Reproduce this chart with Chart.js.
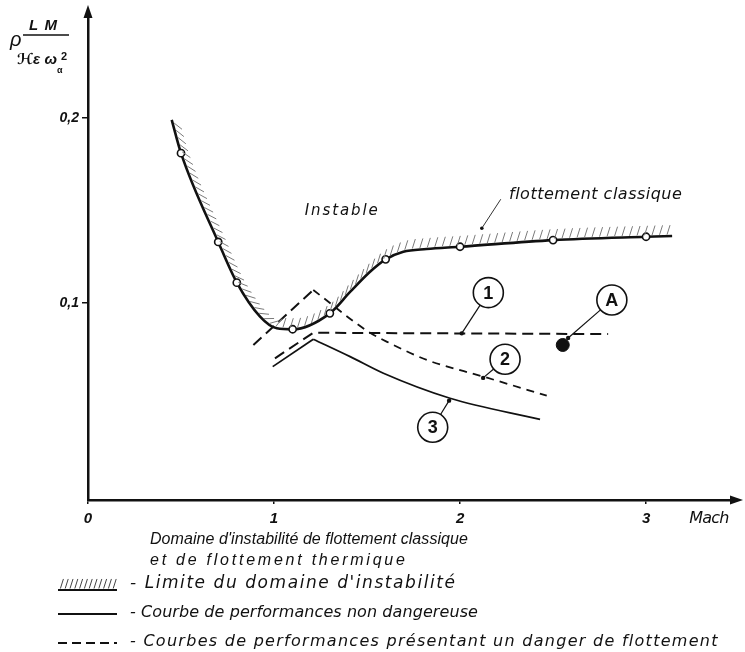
<!DOCTYPE html>
<html>
<head>
<meta charset="utf-8">
<script src="https://cdn.jsdelivr.net/npm/chart.js@4/dist/chart.umd.min.js"></script>
<style>
  html, body { margin: 0; padding: 0; background: #fff; }
  #wrap { width: 745px; height: 652px; position: relative; }
</style>
</head>
<body>
<div id="wrap"><canvas id="c" width="745" height="652"></canvas></div>
<script>
// Limite du domaine d'instabilité (flottement classique)
const limitMach     = [0.45, 0.50, 0.70, 0.80, 0.925, 1.015, 1.10, 1.30, 1.41, 1.516, 1.60, 1.695, 1.82, 2.00, 2.50, 3.00, 3.14];
const limitValue    = [0.199, 0.181, 0.133, 0.111, 0.0926, 0.0863, 0.0858, 0.0944, 0.1061, 0.1169, 0.1236, 0.1277, 0.1292, 0.1304, 0.134, 0.1358, 0.1362];
const limitMeasured = [false, true, true, true, false, false, true, true, false, false, true, false, false, true, true, true, false];

// Courbe 1 (dangereuse) : montée puis palier
const c1Mach  = [1.005, 1.211, 2.796];
const c1Value = [0.0701, 0.0839, 0.0832];

// Courbe 2 (dangereuse) : montée, pointe, décroissance
const c2RiseMach  = [0.889, 1.211];
const c2RiseValue = [0.0773, 0.107];
const c2FallMach  = [1.211, 1.507, 1.624, 1.821, 2.125, 2.466];
const c2FallValue = [0.107, 0.0845, 0.0782, 0.0692, 0.0602, 0.0499];

// Courbe 3 (non dangereuse)
const c3RiseMach  = [0.993, 1.211];
const c3RiseValue = [0.0656, 0.0804];
const c3FallMach  = [1.211, 1.409, 1.588, 1.946, 2.43];
const c3FallValue = [0.0804, 0.071, 0.062, 0.0485, 0.0371];

// Point de fonctionnement A
const pointAMach  = [2.552];
const pointAValue = [0.0773];

// Axes
const xTickValues = [0, 1, 2, 3];
const xTickLabels = ['0', '1', '2', '3'];
const yTickValues = [0.1, 0.2];
const yTickLabels = ['0,1', '0,2'];

const toXY = (xs, ys) => xs.map((v, i) => ({ x: v, y: ys[i] }));

const INK = '#111';
const NARROW = '"Liberation Sans", "DejaVu Sans", sans-serif';
const WIDE = '"DejaVu Sans", "Liberation Sans", sans-serif';

// text stretched to a given width through letter spacing
function fitText(ctx, text, x, y, width, size, family, weight) {
  ctx.font = `italic ${weight || 'normal'} ${size}px ${family || WIDE}`;
  ctx.letterSpacing = '0px';
  const w0 = ctx.measureText(text).width;
  const ls = (width - w0) / Math.max(1, text.length - 1);
  ctx.letterSpacing = ls.toFixed(2) + 'px';
  ctx.textAlign = 'left';
  ctx.textBaseline = 'middle';
  ctx.fillText(text, x, y);
  ctx.letterSpacing = '0px';
}

function bezierPath(pts) {
  const out = [];
  for (let i = 0; i < pts.length - 1; i++) {
    const a = pts[i], b = pts[i + 1];
    const c1x = a.cp2x ?? a.x, c1y = a.cp2y ?? a.y;
    const c2x = b.cp1x ?? b.x, c2y = b.cp1y ?? b.y;
    for (let k = 0; k < 60; k++) {
      const t = k / 60, u = 1 - t;
      out.push({
        x: u*u*u*a.x + 3*u*u*t*c1x + 3*u*t*t*c2x + t*t*t*b.x,
        y: u*u*u*a.y + 3*u*u*t*c1y + 3*u*t*t*c2y + t*t*t*b.y
      });
    }
  }
  const l = pts[pts.length - 1];
  out.push({ x: l.x, y: l.y });
  return out;
}

// short strokes on the unstable (upper) side of a path
function hatchAlong(ctx, path, step, len) {
  let total = 0, next = step * 0.5;
  for (let i = 1; i < path.length; i++) {
    const p = path[i - 1], q = path[i];
    const dx = q.x - p.x, dy = q.y - p.y, d = Math.hypot(dx, dy);
    if (!d) continue;
    const tx = dx / d, ty = dy / d, nx = ty, ny = -tx;
    let ux, uy;
    if (ty > 0.2) {            // falling branch: strokes lean downstream
      ux = nx * 10 + tx * 14 * ty; uy = ny * 10 + ty * 14 * ty;
    } else {                   // flat or rising: steep forward slash
      ux = 0.3; uy = -0.95;
    }
    const ul = Math.hypot(ux, uy); ux /= ul; uy /= ul;
    while (total + d >= next) {
      const f = (next - total) / d;
      const px = p.x + dx * f, py = p.y + dy * f;
      ctx.beginPath();
      ctx.moveTo(px + nx * 1.5, py + ny * 1.5);
      ctx.lineTo(px + nx * 1.5 + ux * len, py + ny * 1.5 + uy * len);
      ctx.stroke();
      next += step;
    }
    total += d;
  }
}

function circled(ctx, cx, cy, label, tx, ty) {
  const r = 15;
  ctx.lineWidth = 1.6;
  ctx.strokeStyle = INK;
  ctx.beginPath(); ctx.arc(cx, cy, r, 0, Math.PI * 2); ctx.stroke();
  const a = Math.atan2(ty - cy, tx - cx);
  ctx.lineWidth = 1.2;
  ctx.beginPath();
  ctx.moveTo(cx + Math.cos(a) * r, cy + Math.sin(a) * r);
  ctx.lineTo(tx, ty);
  ctx.stroke();
  ctx.fillStyle = INK;
  ctx.beginPath(); ctx.arc(tx, ty, 2.2, 0, Math.PI * 2); ctx.fill();
  ctx.font = `bold 18px ${NARROW}`;
  ctx.textAlign = 'center';
  ctx.textBaseline = 'middle';
  ctx.fillText(label, cx, cy + 1);
}

const inkPlugin = {
  id: 'ink',
  afterDatasetsDraw(chart) {
    const { ctx, scales: { x, y } } = chart;
    const X = v => x.getPixelForValue(v), Y = v => y.getPixelForValue(v);
    ctx.save();

    // hatching of the stability limit
    const path = bezierPath(chart.getDatasetMeta(0).data);
    ctx.strokeStyle = '#7a7a7a';
    ctx.lineWidth = 1;
    hatchAlong(ctx, path, 7.5, 10);

    // callouts
    circled(ctx, X(2.152), Y(0.1056), '1', X(2.009), Y(0.0836));
    circled(ctx, X(2.242), Y(0.0696), '2', X(2.124), Y(0.0595));
    circled(ctx, X(1.853), Y(0.0328), '3', X(1.941), Y(0.0472));
    circled(ctx, X(2.816), Y(0.1016), 'A', X(2.581), Y(0.0811));

    // region labels
    ctx.fillStyle = INK;
    fitText(ctx, 'Instable', X(1.364) - 37, Y(0.1494), 73, 15);
    fitText(ctx, 'flottement classique', X(2.731) - 87, Y(0.1584), 173, 16);
    ctx.strokeStyle = '#333';
    ctx.lineWidth = 1;
    ctx.beginPath();
    ctx.moveTo(X(2.219), Y(0.1561));
    ctx.lineTo(X(2.117), Y(0.1404));
    ctx.stroke();
    ctx.beginPath(); ctx.arc(X(2.117), Y(0.1404), 1.8, 0, Math.PI * 2); ctx.fill();

    ctx.restore();
  },
  afterDraw(chart) {
    const { ctx, chartArea: ca, scales: { x } } = chart;
    ctx.save();
    ctx.fillStyle = INK;
    ctx.strokeStyle = INK;

    // axis arrowheads
    ctx.beginPath();
    ctx.moveTo(ca.left, ca.top - 7);
    ctx.lineTo(ca.left - 4.5, ca.top + 6);
    ctx.lineTo(ca.left + 4.5, ca.top + 6);
    ctx.closePath(); ctx.fill();
    ctx.beginPath();
    ctx.moveTo(ca.right + 8, ca.bottom);
    ctx.lineTo(ca.right - 5, ca.bottom - 4.5);
    ctx.lineTo(ca.right - 5, ca.bottom + 4.5);
    ctx.closePath(); ctx.fill();

    // x-axis name
    fitText(ctx, 'Mach', x.getPixelForValue(3.2) + 6, ca.bottom + 19, 40, 16);

    // y-axis quantity  ρ·LM / (ℋε ωα²)
    ctx.font = `italic 20px ${NARROW}`;
    ctx.textAlign = 'left'; ctx.textBaseline = 'alphabetic';
    ctx.fillText('ρ', 10, 46);
    ctx.lineWidth = 1.6;
    ctx.beginPath(); ctx.moveTo(23, 35); ctx.lineTo(69, 35); ctx.stroke();
    fitText(ctx, 'L M', 29, 26, 28, 15, NARROW, 'bold');
    fitText(ctx, 'ℋε ω', 17, 60, 40, 15, NARROW, 'bold');
    ctx.font = `bold 11px ${NARROW}`;
    ctx.fillText('2', 61, 57);
    ctx.font = `bold 9px ${NARROW}`;
    ctx.fillText('α', 57, 71);

    // captions under the chart
    fitText(ctx, "Domaine d'instabilité de flottement classique", 150, 540, 318, 16, NARROW);
    fitText(ctx, 'et de flottement thermique', 150, 561, 255, 16, NARROW);

    const sx0 = 58, sx1 = 117;
    // hatched limit sample
    ctx.lineWidth = 2.2;
    ctx.beginPath(); ctx.moveTo(sx0, 590); ctx.lineTo(sx1, 590); ctx.stroke();
    ctx.lineWidth = 1;
    ctx.strokeStyle = '#444';
    hatchAlong(ctx, [{ x: sx0, y: 590 }, { x: sx1, y: 590 }], 4.8, 10);
    ctx.strokeStyle = INK;
    // solid sample
    ctx.lineWidth = 2;
    ctx.beginPath(); ctx.moveTo(sx0, 614); ctx.lineTo(sx1, 614); ctx.stroke();
    // dashed sample
    ctx.setLineDash([9, 5]);
    ctx.beginPath(); ctx.moveTo(sx0, 643); ctx.lineTo(sx1, 643); ctx.stroke();
    ctx.setLineDash([]);

    fitText(ctx, "- Limite du domaine d'instabilité", 130, 584, 325, 17);
    fitText(ctx, '- Courbe de performances non dangereuse', 130, 613, 348, 16);
    fitText(ctx, '- Courbes de performances présentant un danger de flottement', 130, 642, 588, 16);

    ctx.restore();
  }
};

const lineBase = { showLine: true, pointRadius: 0, borderColor: INK, fill: false, tension: 0 };

new Chart(document.getElementById('c'), {
  type: 'scatter',
  data: {
    datasets: [
      { ...lineBase, label: 'Limite du domaine d\'instabilité', data: toXY(limitMach, limitValue),
        cubicInterpolationMode: 'monotone', borderWidth: 2.6,
        pointRadius: limitMeasured.map(m => m ? 3.6 : 0),
        pointBackgroundColor: '#fff', pointBorderColor: INK, pointBorderWidth: 1.6 },
      { ...lineBase, label: '1', data: toXY(c1Mach, c1Value), borderWidth: 2, borderDash: [11, 6] },
      { ...lineBase, label: '2', data: toXY(c2RiseMach, c2RiseValue), borderWidth: 2, borderDash: [11, 6] },
      { ...lineBase, label: '2', data: toXY(c2FallMach, c2FallValue), borderWidth: 1.8, borderDash: [8, 6],
        cubicInterpolationMode: 'monotone' },
      { ...lineBase, label: '3', data: toXY(c3RiseMach, c3RiseValue), borderWidth: 1.8 },
      { ...lineBase, label: '3', data: toXY(c3FallMach, c3FallValue), borderWidth: 1.8,
        cubicInterpolationMode: 'monotone' },
      { label: 'A', data: toXY(pointAMach, pointAValue), showLine: false,
        pointRadius: 6.5, pointBackgroundColor: INK, pointBorderColor: INK }
    ]
  },
  options: {
    responsive: false,
    animation: false,
    devicePixelRatio: 1,
    layout: { padding: { top: 12, right: 10, left: 0, bottom: 0 } },
    plugins: { legend: { display: false }, tooltip: { enabled: false } },
    scales: {
      x: {
        type: 'linear', min: 0, max: 3.478,
        afterBuildTicks: s => { s.ticks = xTickValues.map(v => ({ value: v })); },
        afterFit: s => { s.height = 152; },
        grid: { display: true, drawOnChartArea: false, tickLength: 4, color: INK, lineWidth: 1.5 },
        border: { display: true, color: INK, width: 2.5 },
        ticks: {
          color: INK, padding: 6, maxRotation: 0,
          font: { family: NARROW, style: 'italic', weight: 'bold', size: 15 },
          callback: (v, i) => xTickLabels[i]
        }
      },
      y: {
        type: 'linear', min: -0.0065, max: 0.2573,
        afterBuildTicks: s => { s.ticks = yTickValues.map(v => ({ value: v })); },
        afterFit: s => { s.width = 88; },
        grid: { display: true, drawOnChartArea: false, tickLength: 6, color: INK, lineWidth: 1.5 },
        border: { display: true, color: INK, width: 2.5 },
        ticks: {
          color: INK, padding: 3,
          font: { family: NARROW, style: 'italic', weight: 'bold', size: 14 },
          callback: (v, i) => yTickLabels[i]
        }
      }
    }
  },
  plugins: [inkPlugin]
});
</script>
</body>
</html>
